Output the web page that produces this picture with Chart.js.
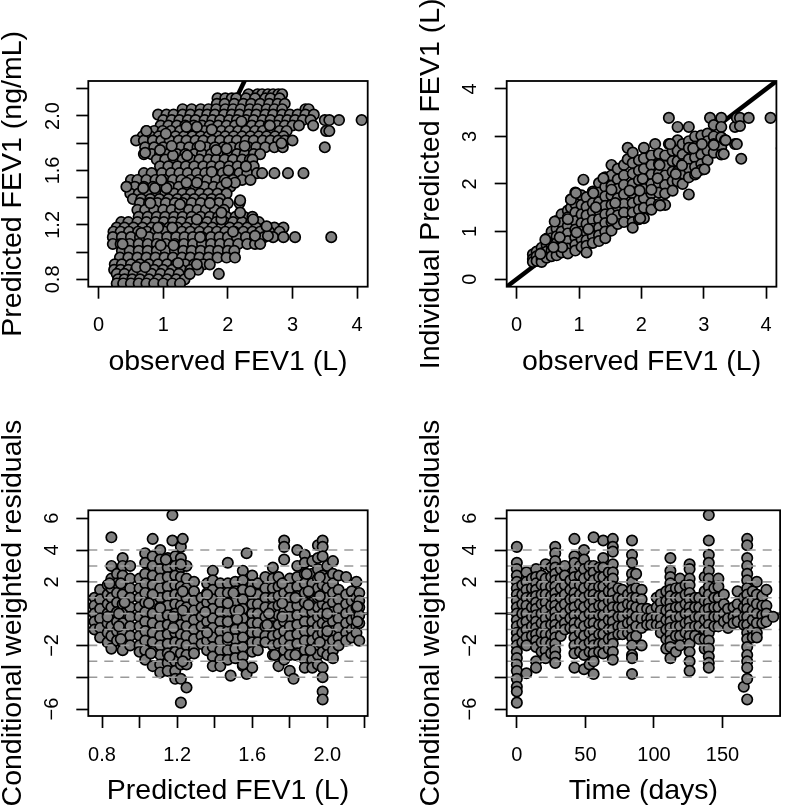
<!DOCTYPE html>
<html lang="en">
<head>
<meta charset="UTF-8" />
<title>FEV1 goodness of fit</title>
<script src="https://cdn.jsdelivr.net/npm/chart.js"></script>
<style>
  html, body { margin: 0; padding: 0; background: #fff; }
  #page { position: relative; width: 787px; height: 807px; overflow: hidden; }
  canvas { position: absolute; display: block; }
</style>
</head>
<body>
<div id="page">
  <canvas id="panelA" width="400" height="405" style="left:0;top:0"></canvas>
  <canvas id="panelB" width="387" height="405" style="left:400px;top:0"></canvas>
  <canvas id="panelC" width="400" height="402" style="left:0;top:405px"></canvas>
  <canvas id="panelD" width="387" height="402" style="left:400px;top:405px"></canvas>
</div>
<script>
// tick positions and the labels R kept
const predTicks = [0.8, 1.0, 1.2, 1.4, 1.6, 1.8, 2.0, 2.2];
const predLabels = ['0.8', '', '1.2', '', '1.6', '', '2.0', ''];
const obsTicks = [0, 1, 2, 3, 4];
const obsLabels = ['0', '1', '2', '3', '4'];
const cwresTicks = [-6, -4, -2, 0, 2, 4, 6];
const cwresLabels = ['\u22126', '', '\u22122', '', '2', '4', '6'];
const timeTicks = [0, 50, 100, 150];
const timeLabels = ['0', '50', '100', '150'];

const identityLine = [-1, 5];
const dashedLevels = [-4, -3, -2, -1, 0, 1, 2, 3, 4];

// top left: population prediction levels, observed values in each
const predLevels = [2.16, 2.13, 2.09, 2.05, 2.01, 1.97, 1.93, 1.89, 1.85, 1.82, 1.77, 1.72, 1.68, 1.63, 1.58, 1.53, 1.48, 1.43, 1.39, 1.36, 1.31, 1.26, 1.22, 1.18, 1.15, 1.11, 1.06, 1.01, 0.96, 0.91, 0.87, 0.84, 0.80, 0.77];
const obsByPred = [
  [2.32, 2.46, 2.53, 2.62, 2.70, 2.78, 2.84],
  [1.84, 1.96, 2.06, 2.13, 2.28, 2.42, 2.58, 2.66, 2.80],
  [1.83, 1.95, 2.10, 2.24, 2.36, 2.50, 2.64, 2.77, 2.88],
  [1.30, 1.44, 1.58, 1.70, 1.82, 1.96, 2.08, 2.20, 2.34, 2.46, 2.60, 2.72, 2.84, 3.20, 3.25],
  [0.92, 1.05, 1.16, 1.30, 1.42, 1.56, 1.68, 1.80, 1.94, 2.06, 2.18, 2.32, 2.44, 2.58, 2.70, 2.84, 2.96, 3.08, 3.20, 3.33],
  [1.00, 1.13, 1.25, 1.38, 1.50, 1.64, 1.76, 1.88, 2.02, 2.14, 2.28, 2.40, 2.54, 2.66, 2.80, 2.92, 3.04, 3.16, 3.28, 3.50, 3.57, 3.72, 4.07],
  [0.96, 1.08, 1.21, 1.34, 1.47, 1.60, 1.72, 1.85, 1.98, 2.11, 2.24, 2.37, 2.50, 2.63, 2.76, 2.88, 3.00, 3.10, 3.32],
  [0.74, 0.86, 0.99, 1.12, 1.26, 1.38, 1.52, 1.64, 1.77, 1.90, 2.03, 2.16, 2.28, 2.42, 2.54, 2.67, 2.80, 2.91, 3.52, 3.57],
  [0.68, 0.80, 0.93, 1.06, 1.19, 1.32, 1.45, 1.58, 1.70, 1.84, 1.96, 2.09, 2.22, 2.35, 2.48, 2.60, 2.73, 2.86],
  [0.58, 0.70, 0.84, 0.97, 1.10, 1.24, 1.36, 1.50, 1.62, 1.76, 1.88, 2.02, 2.14, 2.28, 2.40, 2.54, 2.66, 2.78, 2.88, 3.00],
  [0.72, 0.86, 1.00, 1.13, 1.27, 1.40, 1.53, 1.67, 1.80, 1.93, 2.06, 2.19, 2.32, 2.44, 2.58, 2.72, 2.85, 3.50],
  [0.70, 0.82, 0.95, 1.08, 1.21, 1.34, 1.48, 1.60, 1.74, 1.88, 2.00, 2.14, 2.26, 2.40, 2.50],
  [0.90, 1.03, 1.17, 1.30, 1.43, 1.56, 1.70, 1.82, 1.95, 2.08, 2.22, 2.34, 2.38],
  [0.95, 1.08, 1.22, 1.35, 1.48, 1.62, 1.75, 1.88, 2.02, 2.15, 2.28, 2.40],
  [0.70, 0.82, 0.98, 1.12, 1.25, 1.38, 1.52, 1.65, 1.78, 1.92, 2.05, 2.18, 2.30, 2.45, 2.53, 2.72, 2.93, 3.17],
  [0.50, 0.60, 0.74, 0.88, 1.02, 1.15, 1.28, 1.42, 1.55, 1.68, 1.82, 1.95, 2.08, 2.22, 2.35],
  [0.44, 0.56, 0.70, 0.84, 0.98, 1.10, 1.24, 1.38, 1.50, 1.64, 1.78, 1.90, 2.04],
  [0.49, 0.62, 0.76, 0.90, 1.03, 1.17, 1.30, 1.43, 1.57, 1.70, 1.84, 1.98],
  [0.53, 0.66, 0.80, 0.94, 1.08, 1.22, 1.35, 1.48, 1.62, 1.75, 1.88],
  [0.64, 0.78, 0.91, 1.04, 1.18, 1.30, 1.44, 1.58, 1.72, 1.86, 2.00, 2.18],
  [0.60, 0.72, 0.86, 1.00, 1.13, 1.26, 1.40, 1.53, 1.66, 1.80, 1.94],
  [0.62, 0.76, 0.90, 1.03, 1.17, 1.30, 1.44, 1.58, 1.72, 1.85, 1.98, 2.12, 2.25, 2.38],
  [0.35, 0.46, 0.60, 0.74, 0.88, 1.01, 1.15, 1.28, 1.42, 1.55, 1.68, 1.82, 1.95, 2.08, 2.22, 2.36, 2.48],
  [0.28, 0.40, 0.54, 0.68, 0.82, 0.95, 1.09, 1.22, 1.36, 1.50, 1.63, 1.76, 1.90, 2.03, 2.16, 2.30, 2.44, 2.58, 2.72, 2.86],
  [0.23, 0.34, 0.47, 0.61, 0.75, 0.88, 1.02, 1.16, 1.29, 1.42, 1.56, 1.70, 1.83, 1.96, 2.10, 2.24, 2.38, 2.50, 2.64, 2.80],
  [0.22, 0.36, 0.50, 0.64, 0.78, 0.92, 1.06, 1.20, 1.33, 1.46, 1.60, 1.74, 1.87, 2.00, 2.14, 2.28, 2.42, 2.56, 2.70, 2.86, 3.04, 3.60],
  [0.22, 0.34, 0.48, 0.62, 0.76, 0.90, 1.04, 1.18, 1.32, 1.46, 1.60, 1.74, 1.88, 2.02, 2.16, 2.30, 2.42, 2.50],
  [0.36, 0.48, 0.62, 0.76, 0.90, 1.04, 1.18, 1.31, 1.44, 1.58, 1.72, 1.85, 2.00, 2.10],
  [0.33, 0.46, 0.60, 0.74, 0.88, 1.02, 1.15, 1.29, 1.42, 1.56, 1.70, 1.84, 1.98, 2.11],
  [0.25, 0.36, 0.50, 0.64, 0.78, 0.92, 1.06, 1.20, 1.34, 1.48, 1.62, 1.72],
  [0.24, 0.34, 0.46, 0.58, 0.72, 0.86, 1.00, 1.14, 1.28, 1.42, 1.54],
  [0.28, 0.40, 0.54, 0.68, 0.82, 0.96, 1.10, 1.24, 1.40, 1.86],
  [0.30, 0.40, 0.52, 0.64, 0.78, 0.92, 1.06, 1.20, 1.33],
  [0.28, 0.38, 0.50, 0.62, 0.74, 0.86, 1.00, 1.14, 1.26]
];
// circles that sit on top of the pile, read one by one
const frontObsA = [1.37, 1.75, 1.04, 1.15, 0.80, 1.26, 1.52, 1.14, 0.92, 0.66, 1.57, 0.96, 1.16, 0.37, 0.59, 0.72, 1.23, 1.52, 1.41, 1.82, 1.98, 2.26, 2.83, 2.21, 2.65, 2.42, 2.62, 2.60, 2.39, 2.08, 1.90, 2.11, 1.98, 1.75, 2.01, 2.28, 1.52, 1.36, 1.05, 0.87, 0.69, 0.43, 0.97, 1.72, 2.19, 1.90, 2.19, 0.72, 0.95, 1.57, 1.13, 0.74, 1.36, 1.52];
const frontPredA = [1.71, 1.90, 1.87, 1.71, 1.36, 1.35, 1.24, 1.18, 1.18, 1.14, 1.11, 1.05, 1.05, 1.06, 0.89, 0.89, 0.92, 0.91, 0.84, 1.75, 1.76, 1.78, 1.80, 1.96, 1.93, 1.12, 1.12, 1.19, 1.24, 1.15, 1.24, 1.51, 1.51, 1.59, 1.60, 1.63, 1.51, 1.51, 1.47, 1.47, 1.47, 1.48, 1.53, 1.36, 1.38, 1.29, 1.29, 1.73, 1.75, 1.78, 1.78, 1.89, 1.92, 1.92];

// top right: observed value columns, individual predictions in each
const obsColumns = [0.26, 0.32, 0.40, 0.48, 0.56, 0.64, 0.72, 0.82, 0.87, 0.94, 1.04, 1.07, 1.12, 1.22, 1.32, 1.42, 1.52, 1.62, 1.72, 1.78, 1.86, 1.96, 2.04, 2.16, 2.22, 2.28, 2.38, 2.44, 2.50, 2.58, 2.66, 2.76, 2.86, 2.96, 3.06, 3.10, 3.16, 3.28, 3.34, 3.50, 3.53, 3.58, 3.60, 3.72, 4.07, 4.25];
const ipredByObs = [
  [0.52, 0.42, 0.36],
  [0.58, 0.48, 0.38],
  [0.66, 0.54, 0.42, 0.36],
  [0.85, 0.72, 0.58, 0.45],
  [1.00, 0.86, 0.72, 0.60, 0.48],
  [1.22, 1.06, 0.90, 0.76, 0.62, 0.50],
  [1.36, 1.18, 1.00, 0.84, 0.70, 0.56],
  [1.44, 1.30, 1.12, 0.96, 0.80, 0.64, 0.54],
  [1.68, 1.50],
  [1.82, 1.58, 1.40, 1.22, 1.04, 0.88, 0.72, 0.60],
  [1.76, 1.56, 1.36, 1.18, 1.00, 0.84, 0.68],
  [2.09],
  [1.72, 1.52, 1.34, 1.16, 0.98, 0.82, 0.70, 0.56],
  [1.84, 1.60, 1.42, 1.24, 1.06, 0.90, 0.76],
  [2.02, 1.82, 1.62, 1.44, 1.26, 1.08, 0.92, 0.80],
  [2.14, 1.94, 1.74, 1.54, 1.36, 1.18, 1.00, 0.86],
  [2.40, 2.18, 1.96, 1.76, 1.56, 1.38, 1.20, 1.02],
  [2.32, 2.10, 1.90, 1.70, 1.52, 1.34, 1.16],
  [2.40, 2.18, 1.98, 1.78, 1.58, 1.40, 1.20],
  [2.76, 2.52],
  [2.66, 2.44, 2.22, 2.00, 1.80, 1.60, 1.40, 1.20, 1.08],
  [2.50, 2.28, 2.08, 1.86, 1.66, 1.46, 1.26],
  [2.76, 2.54, 2.32, 2.10, 1.90, 1.70, 1.50, 1.28],
  [2.60, 2.40, 2.20, 2.00, 1.80, 1.60, 1.46],
  [2.84],
  [2.64, 2.42, 2.22, 2.02, 1.82, 1.58],
  [2.60, 2.38, 2.18, 1.98, 1.80, 1.56],
  [3.39, 2.84],
  [2.70, 2.48, 2.26, 2.06, 1.86],
  [3.20, 2.92, 2.70, 2.48, 2.26, 2.06],
  [2.84, 2.62, 2.42, 2.22, 2.00],
  [3.20, 2.90, 2.76, 2.52, 2.32, 2.14, 1.78],
  [3.00, 2.78, 2.56, 2.36, 2.20],
  [3.02, 2.82, 2.62, 2.42, 2.30],
  [3.06, 2.90, 2.70, 2.50],
  [3.39],
  [3.24, 3.00, 2.84, 2.66],
  [3.39, 3.20, 2.98, 2.78, 2.62],
  [2.92],
  [3.20, 2.84],
  [3.39],
  [3.39, 3.22],
  [2.53],
  [3.39],
  [3.39],
  [2.75]
];
const frontObsB = [0.82, 0.61, 0.87, 0.69, 0.73, 0.59, 0.38, 0.96, 1.15, 1.27, 1.53, 1.58, 1.98, 1.97, 1.81, 2.02, 2.26, 2.29, 2.16, 2.30, 2.55, 2.65, 2.83, 2.97, 3.16, 3.35, 3.53, 2.88, 3.01, 3.32, 2.46, 1.39, 1.52, 1.23, 0.95, 0.46];
const frontIpredB = [1.26, 1.21, 1.67, 0.88, 0.67, 0.67, 0.53, 0.98, 1.05, 1.51, 1.26, 1.60, 1.28, 1.86, 1.86, 2.11, 2.12, 2.40, 1.88, 1.55, 2.21, 2.39, 2.75, 2.84, 2.82, 2.92, 2.84, 2.23, 2.31, 2.63, 2.84, 2.12, 1.88, 1.81, 1.81, 0.83];

// bottom left: prediction columns, residuals in each
const predColumns = [0.76, 0.79, 0.83, 0.85, 0.88, 0.91, 0.95, 1.00, 1.03, 1.07, 1.11, 1.15, 1.175, 1.19, 1.22, 1.23, 1.25, 1.29, 1.33, 1.36, 1.39, 1.43, 1.47, 1.485, 1.51, 1.55, 1.57, 1.60, 1.63, 1.67, 1.71, 1.74, 1.77, 1.80, 1.82, 1.84, 1.88, 1.92, 1.95, 1.975, 2.00, 2.03, 2.06, 2.10, 2.13, 2.155, 2.17];
const cwresByPred = [
  [1.0, 0.5, 0.0, -0.5, -1.0],
  [1.5, 0.9, 0.3, -0.3, -0.9, -1.5],
  [1.8, 1.2, 0.6, 0.0, -0.6, -1.2, -1.8],
  [4.8, 3.0, 2.2, 1.6, 1.0, 0.4, -0.2, -0.8, -1.4, -2.2],
  [2.5, 1.9, 1.3, 0.7, 0.1, -0.5, -1.1, -1.7],
  [3.5, 3.0, 2.4, 1.8, 1.2, 0.6, 0.0, -0.6, -1.2, -1.8, -2.3],
  [3.0, 2.2, 1.6, 1.0, 0.4, -0.2, -0.8, -1.4, -2.0],
  [2.2, 1.6, 1.0, 0.4, -0.2, -0.8, -1.4, -2.0, -2.4],
  [3.8, 3.2, 2.5, 1.9, 1.3, 0.7, 0.1, -0.5, -1.1, -1.7, -2.3, -2.9],
  [4.7, 3.6, 3.0, 2.4, 1.8, 1.2, 0.6, 0.0, -0.6, -1.2, -1.8, -2.4, -3.3],
  [4.0, 3.4, 2.8, 2.2, 1.6, 1.0, 0.4, -0.2, -0.8, -1.4, -2.0, -2.6, -3.2, -3.7],
  [3.5, 2.9, 2.3, 1.7, 1.1, 0.5, -0.1, -0.7, -1.3, -1.9, -2.5, -3.1, -3.6],
  [6.2, 4.6],
  [3.6, 3.0, 2.4, 1.8, 1.2, 0.6, 0.0, -0.6, -1.2, -1.8, -2.4, -3.0, -3.6, -4.1],
  [4.2, 3.5, 2.9, 2.3, 1.7, 1.1, 0.5, -0.1, -0.7, -1.3, -1.9, -2.5, -3.2, -4.1, -5.6],
  [4.7],
  [3.0, 2.2, 1.6, 1.0, 0.4, -0.2, -0.8, -1.4, -2.0, -2.6, -3.2, -4.65],
  [2.0, 1.4, 0.8, 0.2, -0.4, -1.0, -1.6, -2.2, -2.5],
  [1.0, 0.4, -0.2, -0.8, -1.4, -1.9],
  [1.9, 1.3, 0.7, 0.1, -0.5, -1.1, -1.7, -2.3],
  [2.7, 2.1, 1.5, 0.9, 0.3, -0.3, -0.9, -1.5, -2.1, -2.7, -3.3],
  [1.9, 1.3, 0.7, 0.1, -0.5, -1.1, -1.7, -2.3, -2.9, -3.3],
  [3.2, 1.9, 1.3, 0.7, 0.1, -0.5, -1.1, -1.7, -2.3, -2.9],
  [-3.9],
  [2.0, 1.4, 0.8, 0.2, -0.4, -1.0, -1.6, -2.2, -2.8],
  [2.7, 2.1, 1.5, 0.9, 0.3, -0.3, -0.9, -1.5, -2.1, -2.7, -3.3],
  [3.8, -3.8],
  [2.4, 1.8, 1.2, 0.6, 0.0, -0.6, -1.2, -1.8, -2.4, -3.4],
  [1.9, 1.2, 0.6, 0.0, -0.6, -1.2, -1.8, -2.3],
  [2.3, 1.6, 1.0, 0.4, -0.2, -0.8, -1.4, -1.8],
  [2.9, 2.2, 1.6, 1.0, 0.4, -0.2, -0.8, -1.4, -2.0, -2.6],
  [2.3, 1.7, 1.1, 0.5, -0.1, -0.7, -1.3, -1.9, -2.5, -3.3],
  [4.6, 4.2, 3.4, 1.9, 1.3, 0.7, 0.1, -0.5, -1.1, -1.7, -2.3, -2.9],
  [2.2, 1.6, 1.0, 0.4, -0.2, -0.8, -1.4, -2.0, -2.6, -3.6],
  [-4.1],
  [4.0, 3.0, 2.3, 1.7, 1.1, 0.5, -0.1, -0.7, -1.3, -1.9, -2.5],
  [3.7, 3.2, 2.5, 1.9, 1.3, 0.7, 0.1, -0.5, -1.1, -1.7, -2.3, -2.9, -3.4],
  [3.3, 2.5, 1.9, 1.3, 0.7, 0.1, -0.5, -1.1, -1.7, -2.3, -2.9, -3.4],
  [4.3, 3.5, 2.8, 2.2, 1.6, 1.0, 0.4, -0.2, -0.8, -1.4, -2.0, -2.6, -3.2],
  [4.6, 4.2, 3.6, 2.4, 1.8, 1.2, 0.6, 0.0, -0.6, -1.2, -1.8, -2.4, -3.4, -4.0, -4.9, -5.4],
  [3.0, 2.2, 1.6, 1.0, 0.4, -0.2, -0.8, -1.4, -2.0, -2.6],
  [3.3, 2.5, 1.9, 1.3, 0.7, 0.1, -0.5, -1.1, -1.7, -2.3, -2.8],
  [2.4, 1.5, 0.9, 0.3, -0.3, -0.9, -1.5, -2.0],
  [2.3, 1.2, 0.6, 0.0, -0.6, -1.2, -1.7],
  [1.4, 0.8, 0.2, -0.4, -1.0, -1.5],
  [2.0, 1.0, 0.4, -0.2, -0.8, -1.2],
  [1.3, 0.8, 0.4, -0.1, -0.6, -1.7]
];
const frontPredC = [0.83, 0.89, 0.89, 0.92, 0.90, 0.84, 0.90, 1.07, 1.05, 1.11, 1.18, 1.18, 1.23, 1.23, 1.22, 1.14, 1.06, 1.16, 1.23, 1.36, 1.35, 1.36, 1.47, 1.47, 1.47, 1.53, 1.52, 1.50, 1.59, 1.55, 1.68, 1.69, 1.76, 1.76, 1.76, 1.72, 1.83, 1.83, 1.90, 1.90, 1.96, 1.96, 2.00, 2.00, 1.96, 1.91, 1.89, 2.16, 2.16];
const frontCwresC = [-0.2, 0.0, -0.8, 0.7, 1.9, 1.9, -1.6, 1.2, 0.65, 0.35, -0.2, -0.9, 1.4, 0.2, 3.1, 3.4, -2.5, -2.7, -3.0, 1.2, 0.1, -1.2, 0.65, -0.5, -1.5, 0.2, -0.35, 1.3, 1.4, -3.2, -0.7, 0.0, -0.2, 0.65, 1.9, -2.6, 1.0, -2.6, 1.4, 0.55, 1.1, 2.3, 0.0, -1.1, -1.8, -2.3, 2.5, 0.45, -0.5];

// bottom right: visit days, residuals at each
const timeColumns = [0, 4, 7, 11, 14, 18, 21, 25, 28, 32, 35, 39, 42, 46, 49, 53, 56, 60, 63, 67, 70, 74, 77, 81, 84, 87, 91, 95, 98, 102, 105, 109, 112, 116, 119, 123, 126, 130, 133, 137, 140, 144, 147, 151, 154, 158, 161, 165.5, 168, 172, 175, 179, 182, 187];
const cwresByTime = [
  [4.2, 3.2, 2.8, 2.4, 2.0, 1.6, 1.2, 0.8, 0.4, 0.0, -0.4, -0.8, -1.2, -1.6, -2.0, -2.4, -2.8, -3.2, -3.6, -4.1, -4.6, -4.9, -5.6],
  [1.8, 1.2, 0.6, 0.0, -0.6, -1.2, -1.8],
  [2.6, 2.0, 1.5, 1.0, 0.5, 0.0, -0.5, -1.0, -1.5, -2.0, -3.75],
  [2.2, 1.6, 1.0, 0.4, -0.2, -0.8, -1.4],
  [2.8, 2.3, 1.9, 1.5, 1.1, 0.7, 0.3, -0.1, -0.5, -0.9, -1.3, -1.7, -2.1, -3.0, -3.4],
  [2.4, 1.8, 1.2, 0.6, 0.0, -0.6, -1.2, -1.8, -2.4],
  [3.1, 2.2, 1.7, 1.2, 0.7, 0.2, -0.3, -0.8, -1.3, -1.8, -2.3, -2.8],
  [2.9, 2.3, 1.7, 1.1, 0.5, -0.1, -0.7, -1.3, -1.9, -2.5],
  [4.2, 3.8, 3.3, 2.9, 2.5, 2.1, 1.7, 1.3, 0.9, 0.5, 0.1, -0.3, -0.7, -1.1, -1.5, -1.9, -2.3, -2.7, -3.1],
  [2.8, 2.2, 1.6, 1.0, 0.4, -0.2, -0.8, -1.4],
  [3.0, 2.4, 1.8, 1.2, 0.6, 0.0, -0.6, -1.0],
  [2.1, 1.5, 0.9, 0.3, -0.3, -0.9],
  [4.7, 3.6, 3.2, 2.7, 2.3, 1.8, 1.3, 0.9, 0.4, -0.1, -0.6, -1.0, -1.5, -2.0, -2.5, -3.4],
  [3.0, 2.4, 1.8, 1.2, 0.6, 0.0, -0.6, -1.2, -1.8, -2.4],
  [4.0, 3.4, 2.8, 2.2, 1.6, 1.0, 0.4, -0.2, -0.8, -1.4, -2.0, -2.6, -3.5],
  [3.0, 2.4, 1.8, 1.2, 0.6, 0.0, -0.6, -1.2, -1.8, -2.4, -3.2],
  [4.8, 3.0, 2.6, 2.1, 1.6, 1.2, 0.8, 0.3, -0.2, -0.6, -1.1, -1.6, -2.0, -2.5, -3.0, -3.8],
  [2.9, 2.3, 1.7, 1.1, 0.5, -0.1, -0.7, -1.3, -1.9, -2.4],
  [4.6, 3.5, 2.9, 2.3, 1.7, 1.1, 0.5, -0.1, -0.7, -1.3, -1.9, -2.5],
  [2.6, 2.0, 1.4, 0.8, 0.2, -0.4, -1.0, -1.6, -2.2],
  [4.7, 4.2, 3.9, 3.1, 2.6, 2.2, 1.7, 1.3, 0.8, 0.4, -0.1, -0.5, -1.0, -1.5, -1.9, -2.4, -2.9],
  [1.6, 1.0, 0.4, -0.2, -0.8, -1.3],
  [1.5, 0.9, 0.4, -0.2, -0.8, -1.3],
  [1.2, 0.6, 0.0, -0.6, -1.2],
  [4.6, 3.7, 3.2, 2.5, 2.0, 1.5, 1.0, 0.5, 0.0, -0.5, -1.0, -1.5, -2.0, -2.6, -2.8, -3.8],
  [2.5, 1.6, 1.0, 0.4, -0.2, -0.8, -1.4],
  [1.5, 0.9, 0.3, -0.3, -0.9, -2.0],
  [0.3, -0.3, -0.7],
  [0.2, -0.3, -0.7],
  [1.0, 0.4, -0.2, -0.7],
  [1.2, 0.7, 0.2, -0.3, -0.8, -1.2],
  [1.4, 0.8, 0.2, -0.4, -1.0, -1.6, -2.2],
  [3.5, 2.7, 2.3, 1.9, 1.5, 1.1, 0.7, 0.3, -0.1, -0.5, -0.9, -1.3, -1.7, -2.1, -2.8],
  [1.6, 1.0, 0.4, -0.2, -0.8, -1.4, -2.4],
  [2.2, 1.6, 1.0, 0.4, -0.2, -0.8, -1.4, -2.0],
  [1.8, 1.2, 0.6, 0.0, -0.6, -1.2],
  [3.1, 2.8, 2.2, 1.8, 1.3, 0.9, 0.4, 0.0, -0.5, -0.9, -1.4, -1.9, -2.4, -3.0, -3.6],
  [1.0, 0.4, -0.2, -0.8, -1.4],
  [1.0, 0.4, -0.2, -0.8, -1.6],
  [2.3, 1.4, 0.8, 0.2, -0.4, -1.0, -1.6, -2.2],
  [6.2, 4.6, 3.7, 3.2, 2.7, 2.2, 1.7, 1.2, 0.7, 0.3, -0.2, -0.7, -1.2, -1.7, -2.2, -2.7, -3.1, -3.4],
  [1.6, 1.0, 0.4, -0.2, -0.8],
  [2.2, 1.7, 1.0, 0.4, -0.2, -0.8],
  [1.2, 0.6, 0.0, -0.5],
  [0.3, -0.3, -0.9],
  [0.4, -0.2, -0.6],
  [1.4, 0.6, 0.0, -0.5],
  [1.0, 0.4, -0.2, -0.7, -4.6],
  [4.7, 4.3, 3.5, 3.0, 2.5, 2.1, 1.6, 1.2, 0.7, 0.3, -0.2, -0.7, -1.2, -1.6, -2.1, -2.6, -3.0, -3.4, -4.1, -5.4],
  [1.4, 0.8, 0.2, -0.4, -1.0, -1.5],
  [2.0, 1.2, 0.6, 0.0, -0.6, -1.2, -1.5],
  [1.1, 0.5, -0.1, -0.6],
  [1.5, 0.5, 0.0, -0.5],
  [-0.2]
];

const ink = '#000';
const dotFill = '#808080';
const dashGrey = '#9a9a9a';
const labelFont = 'Liberation Sans, Arial, sans-serif';

function rowsToPoints(levels, rows) {
  const pts = [];
  levels.forEach((lv, i) => rows[i].forEach(x => pts.push({ x: x, y: lv })));
  return pts;
}
function colsToPoints(cols, rows) {
  const pts = [];
  cols.forEach((c, i) => rows[i].forEach(y => pts.push({ x: c, y: y })));
  return pts;
}
function pairsToPoints(xs, ys) {
  return xs.map((x, i) => ({ x: x, y: ys[i] }));
}

function dots(points) {
  return {
    data: points, order: 2, clip: 0,
    pointRadius: 5.2, pointHoverRadius: 5.2, pointBorderWidth: 1.7,
    pointBackgroundColor: dotFill, pointBorderColor: ink, showLine: false
  };
}
function identity() {
  return {
    data: identityLine.map(v => ({ x: v, y: v })), order: 3, clip: 0,
    showLine: true, pointRadius: 0, borderColor: ink, borderWidth: 4.5
  };
}
function residualLines(xMin, xMax) {
  const sets = [{
    data: [{ x: xMin, y: 0 }, { x: xMax, y: 0 }], order: 3, clip: 0,
    showLine: true, pointRadius: 0, borderColor: ink, borderWidth: 2.5
  }];
  dashedLevels.forEach(lv => sets.push({
    data: [{ x: xMin, y: lv }, { x: xMax, y: lv }], order: 1, clip: 0,
    showLine: true, pointRadius: 0, borderColor: dashGrey, borderWidth: 1.6, borderDash: [9, 7]
  }));
  return sets;
}

const boxPlugin = {
  id: 'box',
  afterDraw(chart) {
    const a = chart.chartArea, c = chart.ctx;
    c.save();
    c.strokeStyle = ink;
    c.lineWidth = 1.8;
    c.strokeRect(a.left, a.top, a.right - a.left, a.bottom - a.top);
    c.restore();
  }
};

function axis(cfg) {
  const horizontal = cfg.pos === 'bottom';
  return {
    type: 'linear', position: cfg.pos, min: cfg.min, max: cfg.max,
    afterBuildTicks(s) { s.ticks = cfg.ticks.map(v => ({ value: v })); },
    afterFit(s) { if (horizontal) s.height = cfg.size; else s.width = cfg.size; },
    border: { display: false },
    grid: { drawOnChartArea: false, drawTicks: true, tickLength: 12, tickWidth: 1.7, tickColor: ink },
    ticks: {
      autoSkip: false, color: ink, padding: cfg.tickPad,
      font: { family: labelFont, size: 20 },
      minRotation: horizontal ? 0 : 90, maxRotation: horizontal ? 0 : 90,
      crossAlign: horizontal ? 'near' : 'center',
      callback: (v, i) => cfg.labels[i]
    },
    title: {
      display: true, text: cfg.title, color: ink, padding: cfg.titlePad,
      font: { family: labelFont, size: 28.5, lineHeight: 1 }
    }
  };
}

function panel(id, datasets, xAxis, yAxis, pad) {
  new Chart(document.getElementById(id), {
    type: 'scatter',
    data: { datasets: datasets },
    plugins: [boxPlugin],
    options: {
      responsive: false, animation: false, devicePixelRatio: 1,
      layout: { padding: pad },
      plugins: { legend: { display: false }, tooltip: { enabled: false } },
      scales: { x: axis(xAxis), y: axis(yAxis) }
    }
  });
}

panel('panelA', [dots(rowsToPoints(predLevels, obsByPred).concat(pairsToPoints(frontObsA, frontPredA))), identity()],
  { pos: 'bottom', min: -0.16, max: 4.164, ticks: obsTicks, labels: obsLabels, size: 118.3, tickPad: 15, title: 'observed FEV1 (L)', titlePad: { top: 0, bottom: 28.75 } },
  { pos: 'left', min: 0.746, max: 2.257, ticks: predTicks, labels: predLabels, size: 88.3, tickPad: 9.4, title: 'Predicted FEV1 (ng/mL)', titlePad: { top: -1.5, bottom: 0 } },
  { top: 81, right: 32.3, left: 0, bottom: 0 });

panel('panelB', [dots(colsToPoints(obsColumns, ipredByObs).concat(pairsToPoints(frontObsB, frontIpredB))), identity()],
  { pos: 'bottom', min: -0.16, max: 4.164, ticks: obsTicks, labels: obsLabels, size: 118.3, tickPad: 15, title: 'observed FEV1 (L)', titlePad: { top: 0, bottom: 28.75 } },
  { pos: 'left', min: -0.16, max: 4.166, ticks: obsTicks, labels: obsLabels, size: 106.7, tickPad: 18.8, title: 'Individual Predicted FEV1 (L)', titlePad: { top: 17, bottom: 0 } },
  { top: 81, right: 1, left: 0, bottom: 0 });

panel('panelC', [dots(colsToPoints(predColumns, cwresByPred).concat(pairsToPoints(frontPredC, frontCwresC)))].concat(residualLines(0.727, 2.215)),
  { pos: 'bottom', min: 0.727, max: 2.215, ticks: predTicks, labels: predLabels, size: 91, tickPad: 15, title: 'Predicted FEV1 (L)', titlePad: { top: 0, bottom: 1.75 } },
  { pos: 'left', min: -6.44, max: 6.5, ticks: cwresTicks, labels: cwresLabels, size: 88.3, tickPad: 12.9, title: 'Conditional weighted residuals', titlePad: { top: -1.5, bottom: 0 } },
  { top: 105.3, right: 32.3, left: 0, bottom: 0 });

panel('panelD', [dots(colsToPoints(timeColumns, cwresByTime))].concat(residualLines(-7.4, 192)),
  { pos: 'bottom', min: -7.4, max: 192, ticks: timeTicks, labels: timeLabels, size: 91, tickPad: 15, title: 'Time (days)', titlePad: { top: 0, bottom: 1.75 } },
  { pos: 'left', min: -6.44, max: 6.5, ticks: cwresTicks, labels: cwresLabels, size: 106.7, tickPad: 13, title: 'Conditional weighted residuals', titlePad: { top: 17, bottom: 0 } },
  { top: 105.3, right: 1, left: 0, bottom: 0 });
</script>
</body>
</html>
